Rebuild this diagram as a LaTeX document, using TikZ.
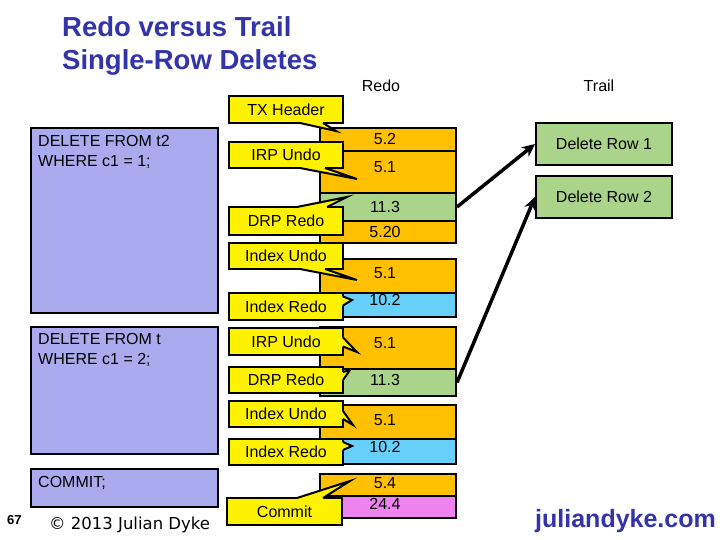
\documentclass[tikz,border=0pt]{standalone}
\usepackage{fontspec}
\setmainfont{Liberation Sans}
\newfontfamily\copyfont{DejaVu Sans}
\usetikzlibrary{arrows.meta}
\definecolor{cPurple}{RGB}{170,170,238}
\definecolor{cOrange}{RGB}{255,192,0}
\definecolor{cGreen}{RGB}{170,212,138}
\definecolor{cBlue}{RGB}{102,208,250}
\definecolor{cPink}{RGB}{238,130,238}
\definecolor{cTitle}{RGB}{51,51,170}
% pointer of a callout: #1 anchor, #2 shift of base end 1, #3 shift of base end 2, #4 inward shift, #5 tip
\newcommand\calloutptr[5]{%
  \fill[yellow] ([#2,#4]#1) -- ([#2]#1) -- (#5) -- ([#3]#1) -- ([#3,#4]#1) -- cycle;
  \draw[ptrline] ([#2]#1) -- (#5) -- ([#3]#1);}
\begin{document}
\begin{tikzpicture}[x=1pt,y=-1pt,
  every node/.style={font=\fontsize{16}{20}\selectfont, inner sep=0pt},
  rowbox/.style={draw=black, line width=2pt, minimum width=136pt},
  val/.style={},
  sqlbox/.style={draw=black, line width=2pt, fill=cPurple, minimum width=187pt},
  sqltext/.style={anchor=north west, align=left},
  callbox/.style={rectangle, draw=black, line width=2pt, fill=yellow,
     minimum width=114pt, outer sep=0pt},
  ptrline/.style={draw=black, line width=2pt, line join=miter},
  trailbox/.style={draw=black, line width=2pt, fill=cGreen, minimum width=136pt, minimum height=42pt},
  arrowline/.style={line width=3.5pt, -{Stealth[length=13pt,width=12pt]}},
  title/.style={anchor=base west, text=cTitle, font=\fontsize{27.5}{33}\selectfont\bfseries}
]
\useasboundingbox[fill=white] (0,0) rectangle (720,540);

% title
\node[title] (t1) at (62,37) {Redo versus Trail};
\node[title] (t2) at (62,70) {Single-Row Deletes};
\node[anchor=base] (hredo) at (381,92) {Redo};
\node[anchor=base] (htrail) at (599,92) {Trail};

% SQL boxes
\node[sqlbox, minimum height=185pt] (s1) at (124.5,220.5) {};
\node[sqltext] (s1t) at (38,135) {DELETE FROM t2\\WHERE c1 = 1;};
\node[sqlbox, minimum height=127pt] (s2) at (124.5,390.5) {};
\node[sqltext] (s2t) at (38,333) {DELETE FROM t\\WHERE c1 = 2;};
\node[sqlbox, minimum height=38pt] (s3) at (124.5,488) {};
\node[sqltext] (s3t) at (38,476) {COMMIT;};

% redo rows
\node[rowbox, fill=cOrange, minimum height=23pt] (r1) at (388,139.5) {};
\node[rowbox, fill=cOrange, minimum height=42pt] (r2) at (388,172) {};
\node[rowbox, fill=cGreen, minimum height=28pt] (r3) at (388,207) {};
\node[rowbox, fill=cOrange, minimum height=22pt] (r4) at (388,232) {};
\node[rowbox, fill=cOrange, minimum height=34pt] (r5) at (388,276) {};
\node[rowbox, fill=cBlue, minimum height=24pt] (r6) at (388,305) {};
\node[rowbox, fill=cOrange, minimum height=42pt] (r7) at (388,348) {};
\node[rowbox, fill=cGreen, minimum height=27pt] (r8) at (388,382.5) {};
\node[rowbox, fill=cOrange, minimum height=34pt] (r9) at (388,422) {};
\node[rowbox, fill=cBlue, minimum height=25pt] (r10) at (388,451.5) {};
\node[rowbox, fill=cOrange, minimum height=22pt] (r11) at (388,485) {};
\node[rowbox, fill=cPink, minimum height=22pt] (r12) at (388,507) {};

\node[val] (v1) at (385,139) {5.2};
\node[val] (v2) at (385,167) {5.1};
\node[val] (v3) at (385,207) {11.3};
\node[val] (v4) at (385,232) {5.20};
\node[val] (v5) at (385,273) {5.1};
\node[val] (v6) at (385,300) {10.2};
\node[val] (v7) at (385,343) {5.1};
\node[val] (v8) at (385,380) {11.3};
\node[val] (v9) at (385,420) {5.1};
\node[val] (v10) at (385,447) {10.2};
\node[val] (v11) at (385,483) {5.4};
\node[val] (v12) at (385,504) {24.4};

% callouts
\node[callbox, minimum height=27pt] (c1) at (286,109.5) {TX Header};
\node[callbox, minimum height=26pt] (c2) at (286,155) {IRP Undo};
\node[callbox, minimum height=28pt] (c3) at (286,221) {DRP Redo};
\node[callbox, minimum height=26pt] (c4) at (286,256) {Index Undo};
\node[callbox, minimum height=27pt] (c5) at (286,306.5) {Index Redo};
\node[callbox, minimum height=27pt] (c6) at (286,341.5) {IRP Undo};
\node[callbox, minimum height=26pt] (c7) at (286,380) {DRP Redo};
\node[callbox, minimum height=26pt] (c8) at (286,414) {Index Undo};
\node[callbox, minimum height=26pt] (c9) at (286,452) {Index Redo};
\node[callbox, minimum width=115pt, minimum height=27pt] (c10) at (284.5,511.5) {Commit};

\coordinate (p1) at (336,131);
\coordinate (p2) at (357,179);
\coordinate (p3) at (347,197);
\coordinate (p4) at (357,280);
\coordinate (p5) at (352,300);
\coordinate (p6) at (357,352);
\coordinate (p7) at (350,370);
\coordinate (p8) at (353,425);
\coordinate (p9) at (352,446);
\coordinate (p10) at (350,481);

\calloutptr{c1.south}{xshift=14pt}{xshift=37pt}{yshift=3pt}{p1}
\calloutptr{c2.south}{xshift=14pt}{xshift=39pt}{yshift=3pt}{p2}
\calloutptr{c3.north}{xshift=11pt}{xshift=41pt}{yshift=-3pt}{p3}
\calloutptr{c4.south}{xshift=14pt}{xshift=39pt}{yshift=3pt}{p4}
\calloutptr{c5.east}{yshift=10pt}{yshift=1pt}{xshift=-3pt}{p5}
\calloutptr{c6.east}{yshift=4pt}{yshift=-5pt}{xshift=-3pt}{p6}
\calloutptr{c7.east}{yshift=8pt}{yshift=0pt}{xshift=-3pt}{p7}
\calloutptr{c8.east}{yshift=3pt}{yshift=-5pt}{xshift=-3pt}{p8}
\calloutptr{c9.east}{yshift=10pt}{yshift=2pt}{xshift=-3pt}{p9}
\calloutptr{c10.north}{xshift=12.5pt}{xshift=38.5pt}{yshift=-3pt}{p10}

% trail
\node[trailbox] (d1) at (604,144) {Delete Row 1};
\node[trailbox] (d2) at (604,197) {Delete Row 2};
\draw[arrowline] (r3.east) -- (d1.west);
\draw[arrowline] (r8.east) -- (d2.west);

% footer
\node[anchor=base west, font=\fontsize{13}{15}\selectfont\bfseries] (pg) at (7,524) {67};
\node[anchor=base west, font=\copyfont\fontsize{16.5}{18}\selectfont] (copy) at (49,529) {© 2013 Julian Dyke};
\node[anchor=base west, text=cTitle, font=\fontsize{25}{28}\selectfont\bfseries] (site) at (535,527) {juliandyke.com};
\end{tikzpicture}
\end{document}
